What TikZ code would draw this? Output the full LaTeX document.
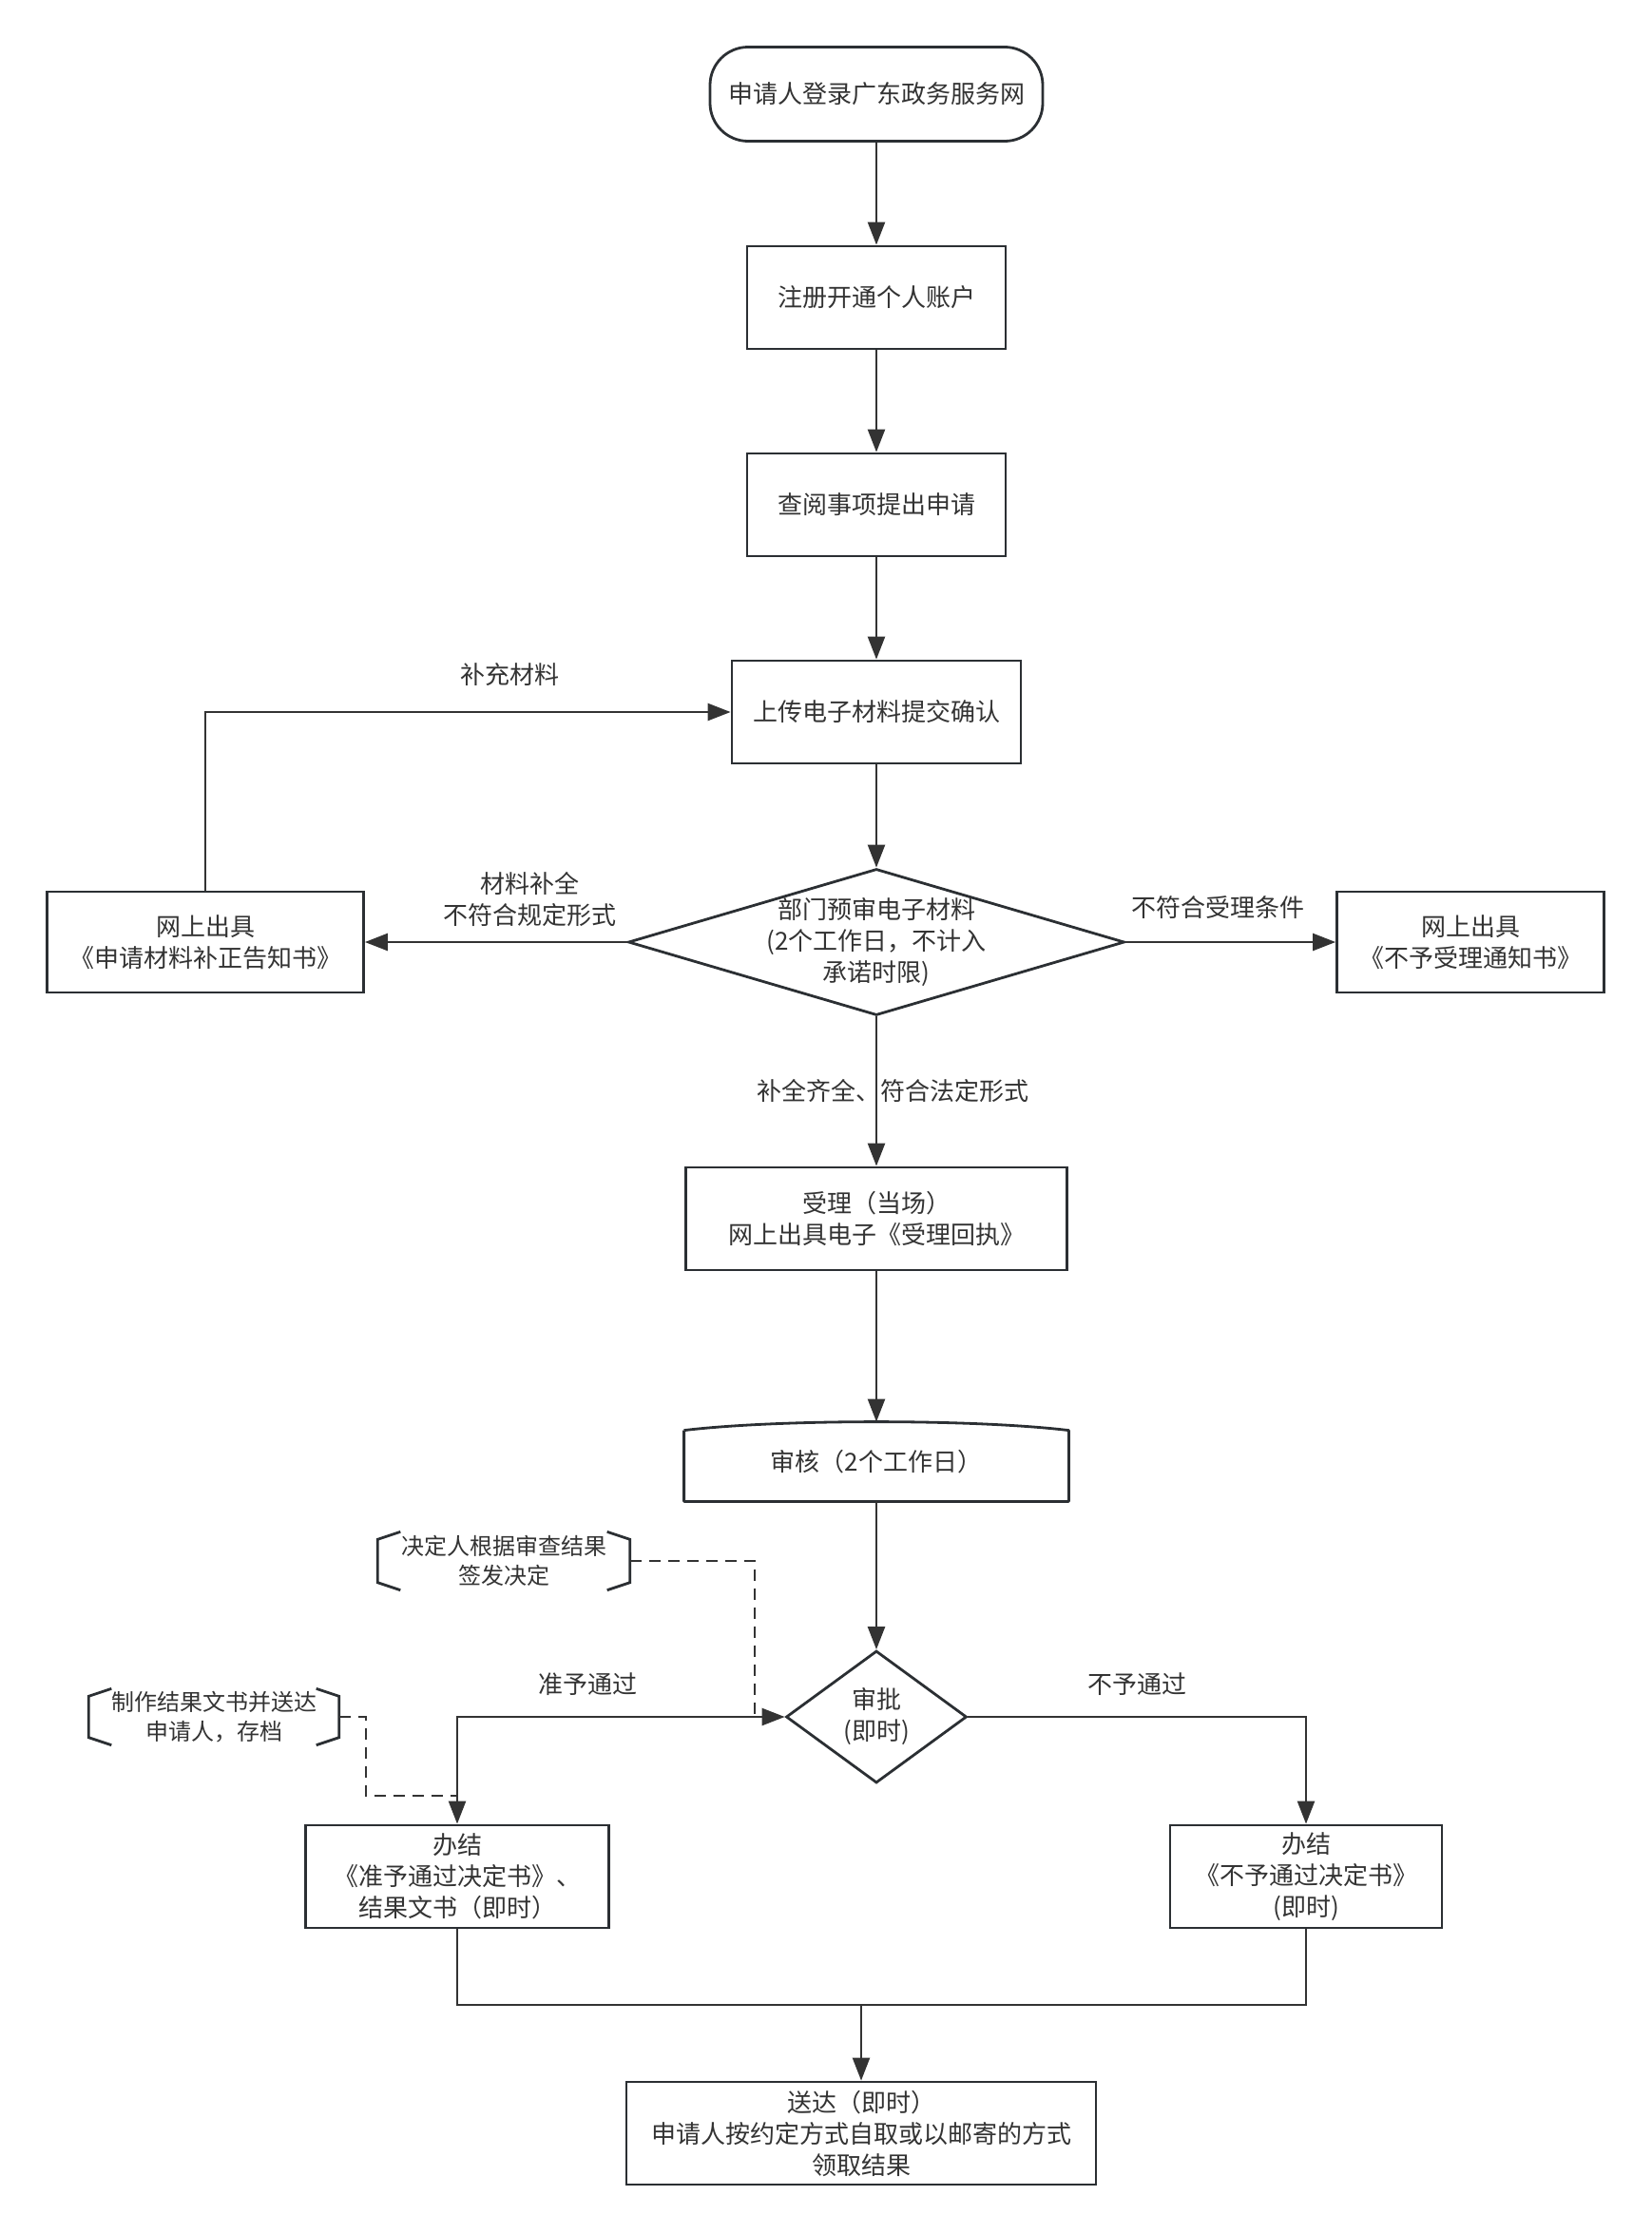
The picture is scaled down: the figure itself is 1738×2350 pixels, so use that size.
\documentclass[tikz,border=0pt]{standalone}
\usepackage{fontspec}
\setmainfont{Noto Sans CJK SC}
\usepackage{tikz}
\usetikzlibrary{arrows.meta,shapes.geometric}
\definecolor{lc}{HTML}{333333}
\definecolor{bc}{HTML}{2B2F33}

\begin{document}
\begin{tikzpicture}[x=0.5pt, y=-0.5pt, color=lc, line width=1.2pt,
    font=\fontsize{13pt}{16.5pt}\selectfont,
    >={Triangle[length=12pt,width=9pt]}]
    \useasboundingbox (0,0) rectangle (1738,2350);

    \begin{scope}[every node/.style={rectangle, draw=bc, line width=1.4pt, align=center, inner sep=0pt}]
      \node[rounded corners=20pt, minimum width=175pt, minimum height=49.5pt] (DL) at (922,99) {申请人登录广东政务服务网};
      \node[minimum width=136pt, minimum height=54pt] (ZC) at (922,313) {注册开通个人账户};
      \node[minimum width=136pt, minimum height=54pt] (CY) at (922,531) {查阅事项提出申请};
      \node[minimum width=152pt, minimum height=54pt] (SC) at (922,749) {上传电子材料提交确认};
      \node[minimum width=166.5pt, minimum height=53pt] (BZ) at (216,991) {网上出具\\《申请材料补正告知书》};
      \node[minimum width=140.5pt, minimum height=53pt] (BY) at (1547,991) {网上出具\\《不予受理通知书》};
      \node[minimum width=200.5pt, minimum height=54pt] (SL) at (922,1282) {受理（当场）\\网上出具电子《受理回执》};
      \node[draw=none, minimum width=201pt, minimum height=40.5pt] (SH) at (922,1537.5) {审核（2个工作日）};
      \node[minimum width=159.5pt, minimum height=54pt] (BJ1) at (481,1974) {办结\\《准予通过决定书》、\\结果文书（即时）};
      \node[minimum width=143pt, minimum height=54pt] (BJ2) at (1374,1974) {办结\\《不予通过决定书》\\(即时)};
      \node[minimum width=247pt, minimum height=54pt] (SD) at (906,2244) {送达（即时）\\申请人按约定方式自取或以邮寄的方式\\领取结果};
    \end{scope}

    \begin{scope}[every node/.style={diamond, draw=bc, line width=1.4pt, inner sep=0pt}]
      \node[minimum width=261pt, minimum height=77pt,
        label={[draw=none, align=center]center:部门预审电子材料\\(2个工作日，不计入\\承诺时限)}] (YS) at (922,991) {};
      \node[minimum width=95pt, minimum height=69.5pt,
        label={[draw=none, align=center]center:审批\\(即时)}] (SP) at (922,1806) {};
    \end{scope}

    \begin{scope}[every node/.style={align=center, inner sep=0pt, font=\fontsize{12pt}{15.75pt}\selectfont}]
      \node[minimum width=131.5pt, minimum height=29.5pt] (A1) at (530,1642) {决定人根据审查结果\\签发决定};
      \node[minimum width=130.5pt, minimum height=28.5pt] (A2) at (225,1806) {制作结果文书并送达\\申请人，存档};
    \end{scope}

    % shape of the review step and the two notes
    \draw[bc, line width=1.4pt, line join=round] ([yshift=-4.5pt]SH.north west) -- (SH.south west) -- (SH.south east)
      -- ([yshift=-4.5pt]SH.north east) .. controls +(-100,-12) and +(100,-12) .. ([yshift=-4.5pt]SH.north west);
    \draw[bc, line width=1.4pt] ([xshift=12pt]A1.north west) -- ([yshift=-4pt]A1.north west) -- ([yshift=4pt]A1.south west) -- ([xshift=12pt]A1.south west)
      ([xshift=-12pt]A1.north east) -- ([yshift=-4pt]A1.north east) -- ([yshift=4pt]A1.south east) -- ([xshift=-12pt]A1.south east);
    \draw[bc, line width=1.4pt] ([xshift=12pt]A2.north west) -- ([yshift=-4pt]A2.north west) -- ([yshift=4pt]A2.south west) -- ([xshift=12pt]A2.south west)
      ([xshift=-12pt]A2.north east) -- ([yshift=-4pt]A2.north east) -- ([yshift=4pt]A2.south east) -- ([xshift=-12pt]A2.south east);

    \coordinate (J1) at (794,1806);
    \coordinate (J2) at (481,1889);
    \coordinate (M) at (906,2109);

    \draw[->] (DL) -- (ZC);
    \draw[->] (ZC) -- (CY);
    \draw[->] (CY) -- (SC);
    \draw[->] (SC) -- (YS);
    \draw[->] (YS) -- node[above=4pt, pos=0.37, align=center] {材料补全\\不符合规定形式} (BZ);
    \draw[->] (YS) -- node[above=8.5pt, pos=0.44] {不符合受理条件} (BY);
    \draw[->] (BZ) |- node[above=10pt, pos=0.79] {补充材料} (SC);
    \draw[->] (YS) -- node[xshift=8.5pt] {补全齐全、符合法定形式} (SL);
    \draw[->] (SL) -- (SH);
    \draw[->] (SH) -- (SP);
    \draw[<->] (SP) -| node[above=7.5pt, pos=0.3] {准予通过} (BJ1);
    \draw[->] (SP) -| node[above=7.5pt, pos=0.25] {不予通过} (BJ2);
    \draw[dash pattern=on 6pt off 4pt] (A1) -| (J1);
    \draw[dash pattern=on 6pt off 4pt] (A2.east) -- ++(28,0) |- (J2);
    \draw (BJ1) |- (M) -| (BJ2);
    \draw[->] (M) -- (SD);

  \end{tikzpicture}
\end{document}
